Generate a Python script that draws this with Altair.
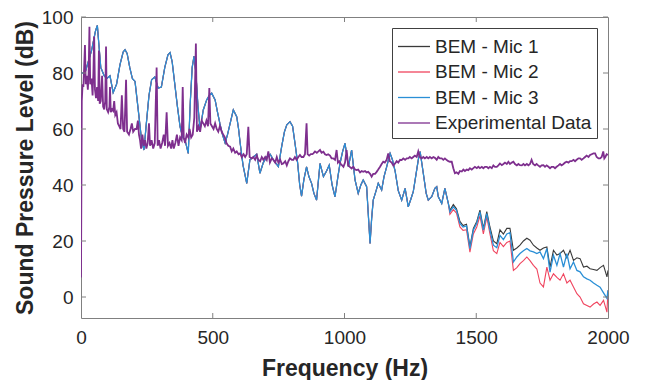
import altair as alt
import pandas as pd

# ---------------- data ----------------
series_names = ["BEM - Mic 1", "BEM - Mic 2", "BEM - Mic 3", "Experimental Data"]
series_colors = ["#3a3a3a", "#f0445e", "#2a8fd6", "#7e2f8e"]

# BEM curves: identical below ~1400 Hz
bem_shared_freq = [1, 15, 40, 55, 62, 68, 75, 88, 98, 110, 122, 135, 148, 160, 167, 175, 185, 195,
                   205, 217, 230, 239, 248, 258, 268, 280, 293, 305, 318, 330, 338, 346, 356, 366,
                   376, 386, 395, 407, 415, 422, 429, 436, 444, 452, 464, 477, 487, 496, 509, 518,
                   527, 537, 547, 556, 566, 578, 591, 598, 604, 615, 629, 641, 654, 667, 679, 692,
                   705, 718, 730, 749, 762, 772, 781, 793, 803, 812, 822, 830, 837, 846, 856, 865,
                   875, 884, 894, 907, 920, 932, 942, 953, 964, 975, 983, 993, 1002, 1015, 1027,
                   1040, 1052, 1062, 1071, 1084, 1090, 1097, 1103, 1109, 1120, 1128, 1141, 1150,
                   1160, 1173, 1182, 1192, 1204, 1217, 1230, 1242, 1252, 1261, 1270, 1280, 1287,
                   1299, 1310, 1318, 1331, 1343, 1350, 1356, 1369, 1381, 1394]
bem_shared_db = [80, 80, 88, 95, 97, 90, 82, 79, 78, 79, 73, 76, 83, 87.5, 88.3, 87, 82, 78,
                 77, 67, 56, 52.5, 62, 72, 77.6, 78.6, 74.6, 75, 82, 86.5, 87.3, 84, 76, 68,
                 60.8, 57, 56, 51.3, 70, 82, 86, 80, 68, 59.7, 66.8, 70.4, 72, 72.8, 70.4, 66,
                 62, 58, 55, 58, 62, 66.8, 64.4, 60, 55, 47, 40.6, 49, 50, 51, 44.2, 48,
                 50.1, 51, 49, 46.6, 54, 59, 61.5, 62.6, 61, 55, 48, 40, 36, 42, 46.5, 43,
                 40.6, 37, 34.6, 47.7, 43, 45, 47.1, 40, 35.8, 43, 47.7, 52, 54.9, 46.5, 52.5,
                 41.8, 37, 40, 41.8, 39.4, 30, 19.1, 28, 34.6, 38, 40.6, 38.2, 43,
                 46.5, 51.3, 49, 45, 38, 34.6, 38.8, 32.2, 35, 37.6, 43, 49, 51.9,
                 44.2, 37, 34.6, 35.8, 38.8, 39.4, 35.8, 33.4, 38.8, 33.4]

bem_tail_freq = [1400, 1413, 1425, 1438, 1450, 1463, 1476, 1489, 1502, 1514, 1527, 1540, 1552,
                 1565, 1578, 1590, 1603, 1616, 1628, 1641, 1654, 1666, 1679, 1692, 1704, 1717,
                 1730, 1742, 1755, 1768, 1780, 1793, 1806, 1818, 1831, 1844, 1856, 1869, 1882,
                 1894, 1907, 1920, 1932, 1945, 1958, 1970, 1983, 1996, 2000]
mic1_tail = [31, 33, 31.5, 27, 25.5, 26, 18, 24.5, 27, 31, 24.5, 30.5, 25,
             20, 19, 24, 22.5, 24.5, 24.5, 16.7, 17.5, 18.5, 20, 21, 20.3, 18.5,
             17.5, 16.7, 17.5, 17.9, 10.7, 16.7, 15, 15.5, 16.7, 14, 16.7, 13.1, 14,
             13.7, 10.7, 11, 10.1, 9.8, 9.5, 10.5, 11.3, 7.2, 9.5]
mic2_tail = [29.5, 31.2, 30, 25, 23.8, 24, 16, 22.5, 25, 29, 22.5, 28.5, 22.5,
             16.5, 15.5, 19.5, 18, 19.5, 20, 9.5, 10.5, 11.9, 13, 14.3, 13, 11.3,
             10, 5, 3.6, 10.7, 6, 8.3, 7, 6, 8.3, 5, 6, 3.6, 1.2,
             0, -2.4, -3, -3.6, -2.5, -1.8, -3, -1.2, -5.4, 2.4]
mic3_tail = [30.4, 32.2, 31, 26.3, 25, 25.4, 17.3, 23.9, 26.3, 30.4, 23.9, 29.8, 23.9,
             18.5, 17.6, 22, 20.5, 22.5, 23, 12.5, 14.3, 15.5, 16.5, 17.3, 16.5, 16.1,
             15.5, 16.1, 13.7, 17.3, 8.9, 14.9, 11.3, 15.5, 10.7, 15.5, 10.1, 12.5, 9.5,
             9, 7.2, 6.5, 6, 5, 4.2, 3.5, 1.5, -0.5, 2.4]

exp_freq = [0, 3, 6, 9, 12, 15, 18, 22, 26, 29, 32, 35, 40, 44, 47, 50, 53, 57, 61, 65, 68, 71,
            75, 80, 84, 88, 92, 95, 98, 103, 108, 110, 113, 118, 122, 126, 130, 135, 140, 145,
            150, 155, 160, 165, 171, 175, 182, 188, 193, 198, 205, 211, 216, 220, 224, 228,
            233, 238, 243, 248, 253, 258, 262, 268, 274, 280, 287, 291, 296, 302, 308, 314,
            319, 325, 330, 336, 342, 347, 352, 358, 364, 370, 376, 382, 386, 390, 395, 401,
            407, 412, 418, 424, 430, 436, 440, 446, 452, 458, 464, 470, 476, 482, 487, 491,
            497, 503, 509, 515, 521, 527, 534, 540, 546, 552, 559, 566, 572, 578, 585, 591,
            598, 604, 610, 617, 623, 629, 635, 640, 648, 654, 661, 667, 673, 680, 686, 692,
            699, 705, 711, 717, 724, 730, 737, 743, 749, 756, 762, 768, 775, 781, 787, 793,
            800, 806, 812, 818, 825, 831, 837, 844, 850, 856, 860, 866, 872, 878, 882, 888,
            895, 901, 907, 913, 920, 926, 932, 938, 945, 951, 957, 964, 970, 975, 980, 986,
            991, 996, 1002, 1008, 1014, 1020, 1027, 1033, 1040, 1046, 1052, 1059, 1065, 1071,
            1078, 1084, 1090, 1097, 1103, 1109, 1116, 1122, 1128, 1135, 1141, 1147, 1153, 1160,
            1166, 1172, 1179, 1185, 1192, 1198, 1204, 1211, 1217, 1223, 1230, 1236, 1242, 1248,
            1255, 1261, 1267, 1274, 1280, 1286, 1293, 1299, 1305, 1312, 1318, 1324, 1331, 1337,
            1343, 1350, 1356, 1362, 1369, 1375, 1381, 1388, 1394, 1400, 1407, 1413, 1419, 1425,
            1432, 1438, 1445, 1451, 1457, 1464, 1470, 1476, 1483, 1489, 1495, 1502, 1508, 1514,
            1521, 1527, 1533, 1540, 1546, 1552, 1559, 1565, 1571, 1578, 1584, 1590, 1597, 1603,
            1609, 1616, 1622, 1628, 1635, 1641, 1647, 1654, 1660, 1666, 1673, 1679, 1685, 1692,
            1698, 1704, 1710, 1716, 1723, 1729, 1735, 1742, 1748, 1755, 1761, 1767, 1774, 1780,
            1786, 1793, 1799, 1805, 1812, 1818, 1824, 1831, 1837, 1843, 1850, 1856, 1862, 1869,
            1875, 1881, 1888, 1894, 1900, 1907, 1913, 1919, 1926, 1932, 1938, 1945, 1951, 1957,
            1964, 1970, 1976, 1982, 1986, 1990, 1995, 2000]
exp_db = [7, 70, 76, 75, 82, 90, 76, 79, 74, 80, 96.5, 76, 78, 72, 80, 93, 74, 71, 75, 70, 88, 69,
          70, 79, 68, 67, 70, 89.5, 67, 66, 68, 75, 66, 67, 66.5, 70, 65, 66, 62, 61,
          60, 72, 60, 59, 77.6, 59, 58, 60, 62, 59, 60, 60, 63, 58, 56, 53,
          58, 54, 56, 53, 55, 62, 54, 56, 53, 55, 82, 54, 56, 53, 55, 58,
          54, 66, 54, 55, 53, 56, 53, 55, 58, 54, 57, 56, 75, 57, 55, 58,
          57, 60, 57, 58, 64, 90.5, 59, 61, 59, 63, 62, 61, 63, 61, 74.6, 62,
          61, 60, 62, 60, 59, 61, 59, 58, 57, 55, 54, 53.7, 52, 53, 51.5, 52,
          51, 51.3, 50, 51, 50, 51, 60.8, 50, 49.5, 50, 49, 50.5, 49, 48.5, 50, 49,
          50, 49, 52, 48, 49.5, 49, 48, 50, 48, 49, 47.5, 47.7, 48.5, 47, 48.5, 49.5,
          49, 49, 50, 49, 50, 50.7, 50, 50, 51, 62, 51, 50.5, 51, 51, 51.3, 52,
          51.5, 52, 52.5, 51.5, 51.9, 51, 50.7, 51, 50.5, 49.5, 49.5, 49, 52.5, 48, 48.5, 47.5,
          47, 46.5, 48, 52.5, 47, 46.5, 45.9, 46.5, 45.5, 45.3, 45.5, 44.5, 45, 44.7,
          45, 44.5, 44.7, 44, 43, 44, 44, 44.7, 45.5, 46.5, 47.5, 48.3, 48, 49,
          51.3, 48.5, 48, 47, 47.7, 48.5, 48, 49, 48.9, 49.5, 49, 49.5, 49.5, 50,
          49.5, 50, 50.5, 50, 52, 50, 49.5, 50, 49.5, 50, 49.5, 50, 49.5, 50,
          49.7, 49, 50, 49.5, 49.5, 49, 49.5, 48.9, 48.5, 48.3, 48.3, 46, 44.2, 44.5,
          44, 45, 44.8, 45.5, 45, 45.5, 45.3, 46, 45.5, 46, 46.5, 46, 46.5, 46,
          46.5, 46, 46.5, 46.5, 46, 46.5, 46, 47, 46.5, 46.5, 47, 47.7, 47.1, 47.5,
          48, 47.5, 48.3, 47.5, 48, 48.3, 47.5, 47, 47.5, 47.1, 47, 47.5, 47, 47.5,
          47, 47.5, 49, 47.5, 47, 47.5, 47, 46.5, 47, 47.1, 46.5, 47, 46.5, 46,
          46.5, 46.5, 46, 46.5, 47, 47.5, 47, 47.5, 48, 48.3, 48, 48.5, 48.5, 49,
          48.5, 49, 49.5, 49.5, 49, 49.5, 50, 50.5, 50, 50.7, 51, 51.3, 51.3, 50,
          49.5, 49.5, 50, 52, 49.5, 50, 51, 50.7]

x_ticks = [0, 500, 1000, 1500, 2000]
y_ticks = [0, 20, 40, 60, 80, 100]

# ---------------- build tables ----------------
def bem_frame(name, tail):
    return pd.DataFrame({
        "freq": bem_shared_freq + bem_tail_freq,
        "db": bem_shared_db + tail,
        "series": name,
    })

df_m1 = bem_frame(series_names[0], mic1_tail)
df_m2 = bem_frame(series_names[1], mic2_tail)
df_m3 = bem_frame(series_names[2], mic3_tail)
df_exp = pd.DataFrame({"freq": exp_freq, "db": exp_db, "series": series_names[3]})

W, H = 527, 301
FONT = "Liberation Sans"
TXT = "#262626"

xscale = alt.Scale(domain=[0, 2000], nice=False)
yscale = alt.Scale(domain=[-7.5, 100], nice=False)
cscale = alt.Scale(domain=series_names, range=series_colors)

xaxis = alt.Axis(values=x_ticks, format="d", labelFlush=False, ticks=False, domain=False,
                 grid=False, labelFontSize=19, labelFont=FONT, labelColor=TXT, labelPadding=10,
                 title="Frequency (Hz)", titleFontSize=23, titleFont=FONT,
                 titleFontWeight="bold", titleColor=TXT, titleY=50, titleBaseline="middle")
yaxis = alt.Axis(values=y_ticks, format="d", labelFlush=False, ticks=False, domain=False,
                 grid=False, labelFontSize=19, labelFont=FONT, labelColor=TXT, labelPadding=8,
                 title="Sound Pressure Level (dB)", titleFontSize=23, titleFont=FONT,
                 titleFontWeight="bold", titleColor=TXT, titleX=-56, titleBaseline="middle")

def line_layer(df, width):
    return alt.Chart(df).mark_line(strokeWidth=width, clip=True).encode(
        x=alt.X("freq:Q", scale=xscale, axis=xaxis),
        y=alt.Y("db:Q", scale=yscale, axis=yaxis),
        color=alt.Color("series:N", scale=cscale, sort=series_names,
                        legend=alt.Legend(title=None)),
    )

l1 = line_layer(df_m1, 1.1)
l2 = line_layer(df_m2, 1.1)
l3 = line_layer(df_m3, 1.3)
l4 = line_layer(df_exp, 1.8)

# inner tick marks (MATLAB style box ticks)
xt = pd.DataFrame({"freq": x_ticks[1:-1]})
yt = pd.DataFrame({"db": y_ticks})
tick_color = "#808080"
xb = alt.Chart(xt).mark_rule(color=tick_color).encode(
    x=alt.X("freq:Q", scale=xscale, axis=xaxis), y=alt.value(H), y2=alt.value(H - 5))
xtop = alt.Chart(xt).mark_rule(color=tick_color).encode(
    x=alt.X("freq:Q", scale=xscale, axis=xaxis), y=alt.value(0), y2=alt.value(5))
yl = alt.Chart(yt).mark_rule(color=tick_color).encode(
    y=alt.Y("db:Q", scale=yscale, axis=yaxis), x=alt.value(0), x2=alt.value(5))
yr = alt.Chart(yt).mark_rule(color=tick_color).encode(
    y=alt.Y("db:Q", scale=yscale, axis=yaxis), x=alt.value(W - 5), x2=alt.value(W))

chart = alt.layer(l1, l2, l3, l4, xb, xtop, yl, yr).properties(
    width=W, height=H,
    autosize=alt.AutoSizeParams(type="none"),
    padding={"left": 73, "top": 9, "right": 32, "bottom": 62},
).configure_view(
    stroke="#808080", strokeWidth=1
).configure_legend(
    orient="top-right", offset=11, padding=5, fillColor="white", strokeColor="#404040",
    labelFont=FONT, labelFontSize=19, labelColor=TXT, labelOffset=11,
    symbolType="M-1,0L1.56,0", symbolSize=625, symbolStrokeWidth=1.3, rowPadding=1.5,
    labelLimit=300,
)

chart.save("out.html", embed_options={"renderer": "svg", "actions": False})
